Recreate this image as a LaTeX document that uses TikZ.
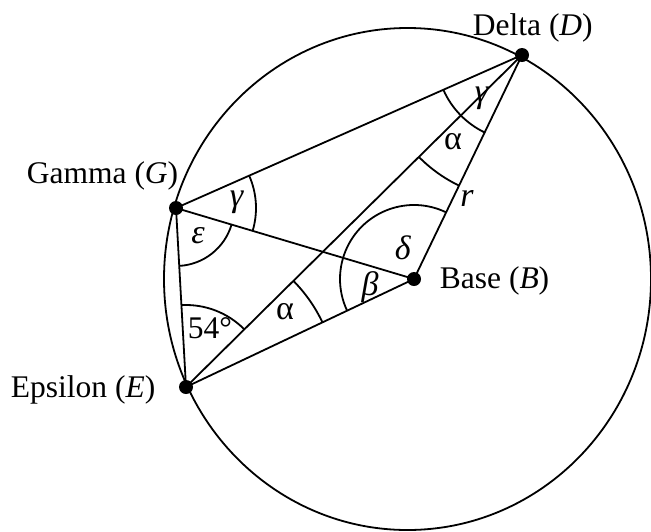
\documentclass[tikz,border=0pt]{standalone}
\usepackage{fontspec}
\setmainfont{Liberation Serif}
\usetikzlibrary{angles}
\begin{document}
\begin{tikzpicture}[x=1pt,y=-1pt,line width=1.8pt,
  lbl/.style={inner sep=0pt,font=\fontsize{31.5}{37}\selectfont},
  glbl/.style={inner sep=0pt,font=\fontsize{34}{39}\selectfont},
  dotnode/.style={circle,fill=black,inner sep=0pt,minimum size=14pt},
  arcmark/.style={draw,line width=1.8pt}]
\useasboundingbox (0,0) rectangle (651,531);
% points
\coordinate (D) at (522,55);
\coordinate (G) at (176,208);
\coordinate (E) at (186,387);
\coordinate (B) at (414,279);
% circle
\draw (407.5,279) ellipse [x radius=243.5pt, y radius=251pt];
% segments
\draw (D) -- (G);
\draw (D) -- (E);
\draw (D) -- (B);
\draw (G) -- (B);
\draw (E) -- (B);
\draw (G) -- (E);
% angle arcs
\pic[arcmark, angle radius=86pt] {angle = G--D--B};
\pic[arcmark, angle radius=145pt] {angle = E--D--B};
\pic[arcmark, angle radius=80pt] {angle = B--G--D};
\pic[arcmark, angle radius=58pt] {angle = E--G--B};
\pic[arcmark, angle radius=82pt] {angle = D--E--G};
\pic[arcmark, angle radius=151pt] {angle = B--E--D};
\pic[arcmark, angle radius=74pt] {angle = D--B--E};
% dots
\node[dotnode] (nD) at (D) {};
\node[dotnode] (nG) at (G) {};
\node[dotnode] (nE) at (E) {};
\node[dotnode] (nB) at (B) {};
% labels
\node[lbl,anchor=base west] (tD) at (472,35) {Delta (\textit{D})};
\node[lbl,anchor=base west] (tG) at (26,183) {Gamma (\textit{G})};
\node[lbl,anchor=base west] (tE) at (10,397) {Epsilon (\textit{E})};
\node[lbl,anchor=base west] (tB) at (439,288) {Base (\textit{B})};
\node[glbl] (g1) at (482,98) {\textit{γ}};
\node[glbl] (a1) at (453,142) {α};
\node[glbl] (r) at (467,198) {\textit{r}};
\node[glbl] (g2) at (237,202) {\textit{γ}};
\node[glbl] (eps) at (198,236) {\textit{ε}};
\node[glbl] (del) at (403,248) {\textit{δ}};
\node[glbl] (bet) at (370,287) {\textit{β}};
\node[glbl] (a2) at (285,312) {α};
\node[lbl] (f54) at (210,328) {54°};
\end{tikzpicture}
\end{document}
